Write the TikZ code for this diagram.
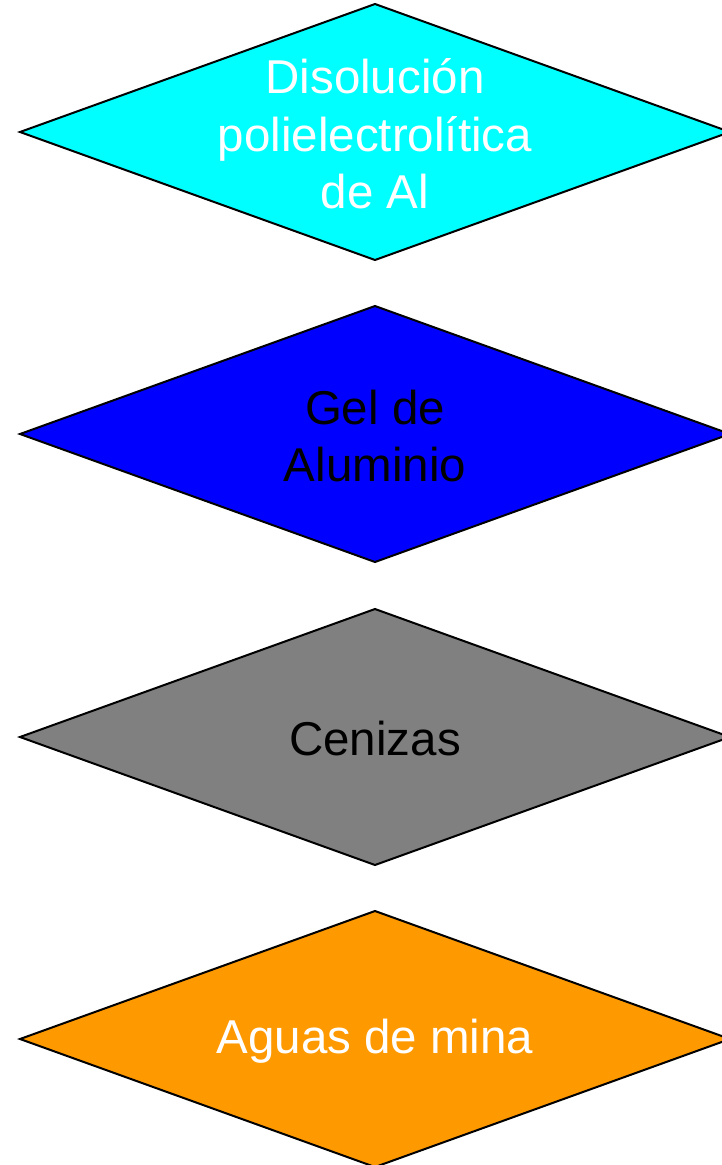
\documentclass[tikz,border=0pt]{standalone}
\usepackage{fontspec}
\setmainfont{Liberation Sans}
\begin{document}
\begin{tikzpicture}[x=1pt,y=-1pt,
  dia/.style={draw=black, line width=2pt, line join=miter},
  lbl/.style={align=center, inner sep=0pt, font=\fontsize{47.5}{57.5}\selectfont}]
\useasboundingbox (0,0) rectangle (722,1165);
\begin{scope}
\clip (0,0) rectangle (722,1165);
\fill[white] (0,0) rectangle (722,1165);
\filldraw[dia, fill={rgb,255:red,0;green,255;blue,255}] (20,132) -- (375,4) -- (730,132) -- (375,260) -- cycle;
\filldraw[dia, fill={rgb,255:red,0;green,0;blue,255}] (20,434) -- (375,306) -- (730,434) -- (375,562) -- cycle;
\filldraw[dia, fill={rgb,255:red,128;green,128;blue,128}] (20,737) -- (375,609) -- (730,737) -- (375,865) -- cycle;
\filldraw[dia, fill={rgb,255:red,255;green,153;blue,0}] (20,1039) -- (375,911) -- (730,1039) -- (375,1167) -- cycle;
\end{scope}
\node[lbl, text=white] (n1) at (375,134) {Disolución\\polielectrolítica\\de Al};
\node[lbl, text=black] (n2) at (375,436) {Gel de\\Aluminio};
\node[lbl, text=black] (n3) at (375,739) {Cenizas};
\node[lbl, text=white] (n4) at (375,1041) {Aguas de mina};
\end{tikzpicture}
\end{document}
